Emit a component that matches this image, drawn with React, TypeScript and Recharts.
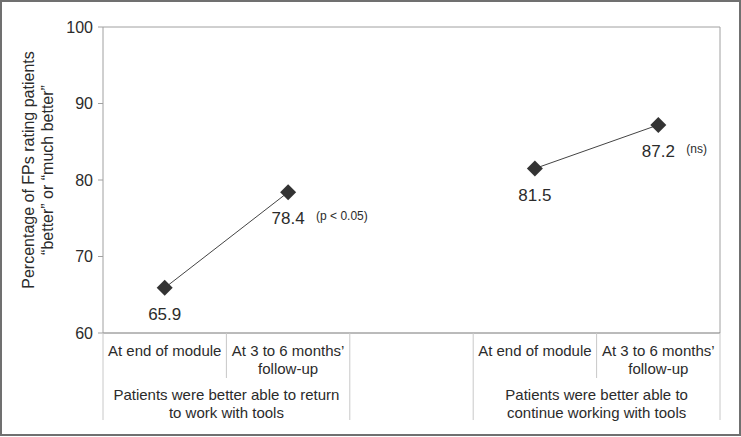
import React from 'react';
import { LineChart, Line, XAxis, YAxis, CartesianGrid, LabelList } from 'recharts';

// x slots: two time points per outcome, with an empty slot between the groups
const categories = [
  'At end of module',
  'At 3 to 6 months’\nfollow-up',
  '',
  'At end of module',
  'At 3 to 6 months’\nfollow-up',
];
const returnToWork = [65.9, 78.4, null, null, null];
const continueWorking = [null, null, null, 81.5, 87.2];
const returnNotes = ['', '(p < 0.05)', '', '', ''];
const continueNotes = ['', '', '', '', '(ns)'];
const groupLabels = [
  'Patients were better able to return\nto work with tools',
  'Patients were better able to\ncontinue working with tools',
];
const groupEnds = [1, 4]; // last slot of each group
const yTicks = [60, 70, 80, 90, 100];

const W = 741;
const H = 437;
const X_AXIS_H = 30;
const M = { top: 27, right: 21, bottom: 104 - X_AXIS_H, left: 0 };
const Y_AXIS_W = 103;
const HALF_BAND = (W - M.left - M.right - Y_AXIS_W) / categories.length / 2;

const FONT = '"Liberation Sans", Arial, Helvetica, sans-serif';
const TEXT = '#2b2b2b';

const data = categories.map((cat, i) => ({
  cat,
  a: returnToWork[i],
  b: continueWorking[i],
  noteA: returnNotes[i],
  noteB: continueNotes[i],
}));

const Diamond = (props: any) => {
  const { cx, cy, value } = props;
  if (value == null || cx == null || cy == null) return null;
  return (
    <path
      d={`M${cx},${cy - 8} L${cx + 8},${cy} L${cx},${cy + 8} L${cx - 8},${cy} Z`}
      fill="#333"
    />
  );
};

const makeValueLabel = (noteKey: 'noteA' | 'noteB') => (props: any) => {
  const { x, y, value, index } = props;
  if (value == null) return null;
  const note = data[index]?.[noteKey];
  return (
    <g>
      <text x={x} y={y + 32} textAnchor="middle" fontSize={17} fill={TEXT} fontFamily={FONT}>
        {value.toFixed(1)}
      </text>
      {note ? (
        <text x={x + 28} y={y + 28} fontSize={12} fill={TEXT} fontFamily={FONT}>
          {note}
        </text>
      ) : null}
    </g>
  );
};

const CategoryTick = (props: any) => {
  const { x, y, payload, index } = props;
  const lines = String(payload.value).split('\n');
  const sepColor = '#c8c8c8';
  const left = x - HALF_BAND;
  const shortSep = index === 1 || index === 4;
  const gi = groupEnds.indexOf(index);
  return (
    <g>
      <line x1={left} y1={y} x2={left} y2={y + (shortSep ? 45 : 87)} stroke={sepColor} />
      {index === categories.length - 1 ? (
        <line x1={x + HALF_BAND} y1={y} x2={x + HALF_BAND} y2={y + 87} stroke={sepColor} />
      ) : null}
      {lines.map((t, k) => (
        <text key={k} x={x} y={y + 23 + k * 18} textAnchor="middle" fontSize={15} fill={TEXT} fontFamily={FONT}>
          {t}
        </text>
      ))}
      {gi >= 0
        ? groupLabels[gi].split('\n').map((t, k) => (
            <text
              key={`g${k}`}
              x={x - HALF_BAND}
              y={y + 67 + k * 18}
              textAnchor="middle"
              fontSize={15}
              fill={TEXT}
              fontFamily={FONT}
            >
              {t}
            </text>
          ))
        : null}
    </g>
  );
};

const YTitle = (props: any) => {
  const { viewBox } = props;
  const cy = viewBox.y + viewBox.height / 2 - 10;
  return (
    <g fontFamily={FONT} fontSize={16} fill={TEXT}>
      <text x={28} y={cy} transform={`rotate(-90 28 ${cy})`} textAnchor="middle" dominantBaseline="central">
        Percentage of FPs rating patients
      </text>
      <text x={47} y={cy} transform={`rotate(-90 47 ${cy})`} textAnchor="middle" dominantBaseline="central">
        “better” or “much better”
      </text>
    </g>
  );
};

export default function App() {
  return (
    <div
      style={{
        position: 'absolute',
        left: 0,
        top: 0,
        width: W,
        height: 436,
        boxSizing: 'border-box',
        border: '2px solid #707070',
        background: '#fff',
        overflow: 'hidden',
      }}
    >
      <div style={{ position: 'absolute', left: -2, top: -2 }}>
        <LineChart width={W} height={H} data={data} margin={M}>
          {/* plot frame: top and right edges */}
          <CartesianGrid
            stroke="#a0a0a0"
            horizontalCoordinatesGenerator={({ offset }: any) => [offset.top]}
            verticalCoordinatesGenerator={({ offset }: any) => [offset.left + offset.width]}
          />
          <XAxis
            dataKey="cat"
            height={X_AXIS_H}
            padding={{ left: HALF_BAND, right: HALF_BAND }}
            tick={<CategoryTick />}
            tickLine={false}
            tickSize={0}
            tickMargin={0}
            interval={0}
            axisLine={{ stroke: '#777' }}
          />
          <YAxis
            width={Y_AXIS_W}
            domain={[60, 100]}
            ticks={yTicks}
            tickSize={5}
            tickMargin={5}
            axisLine={{ stroke: '#a0a0a0' }}
            tickLine={{ stroke: '#a0a0a0' }}
            tick={{ fontSize: 16, fill: TEXT, fontFamily: FONT }}
            label={<YTitle />}
          />
          <Line
            dataKey="a"
            stroke="#444"
            strokeWidth={1}
            dot={<Diamond />}
            activeDot={false}
            isAnimationActive={false}
          >
            <LabelList dataKey="a" content={makeValueLabel('noteA')} />
          </Line>
          <Line
            dataKey="b"
            stroke="#444"
            strokeWidth={1}
            dot={<Diamond />}
            activeDot={false}
            isAnimationActive={false}
          >
            <LabelList dataKey="b" content={makeValueLabel('noteB')} />
          </Line>
        </LineChart>
      </div>
    </div>
  );
}
